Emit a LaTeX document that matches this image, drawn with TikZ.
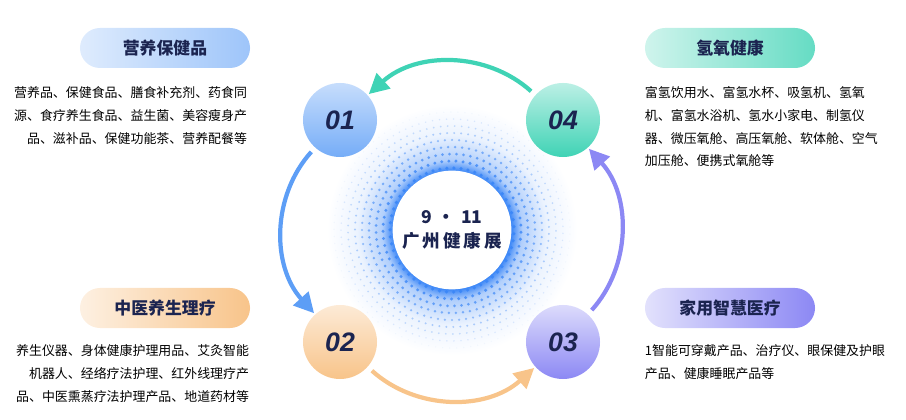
\documentclass[tikz,border=0pt]{standalone}
\usepackage{fontspec}
\setmainfont{Noto Sans CJK SC}
\newfontfamily\numfont{Liberation Sans}
\usetikzlibrary{arrows.meta}
\definecolor{navy}{HTML}{1B2450}
\definecolor{haloblue}{HTML}{3A86F7}
\definecolor{tealc}{HTML}{3FD3B5}
\definecolor{bluec}{HTML}{5D9EF6}
\definecolor{orangec}{HTML}{F8C48A}
\definecolor{purplec}{HTML}{8C88F4}
\pgfdeclareradialshading{halo}{\pgfpoint{0bp}{0bp}}{color(0bp)=(haloblue);color(11.8bp)=(haloblue);color(14bp)=(haloblue!40!white);color(19bp)=(haloblue!10!white);color(25bp)=(white);color(50bp)=(white)}
\begin{document}
\begin{tikzpicture}[x=0.025cm,y=0.025cm,
    num/.style={shape=circle, minimum size=1.85cm, font=\numfont\bfseries\itshape\fontsize{19}{19}\selectfont, text=navy, shading angle=135},
    pill/.style={rounded corners=0.5cm, minimum width=4.25cm, minimum height=1cm, font=\bfseries\fontsize{12}{12}\selectfont, text=navy, shading angle=90},
    desc/.style={font=\fontsize{9.2}{16.1}\selectfont, text=black},
    loop/.style={line width=3pt, bend right=42, -{Triangle[length=5mm,width=5mm]}, shorten <=4pt, shorten >=1pt}]

    \useasboundingbox (0,0) rectangle (906,420);

    % halo round the middle
    \shade[shading=halo] (452,190) circle (125);
    \foreach \r in {62,69,...,125} {
      \pgfmathsetmacro{\n}{int(2*pi*\r/7)}
      \pgfmathsetmacro{\op}{max(0,0.9-(\r-62)/66)}
      \pgfmathsetmacro{\dr}{1.8-(\r-62)/50}
      \foreach \k in {1,...,\n}
        \fill[haloblue, opacity=\op] (452,190) ++(\k/\n*360+\r:\r) circle (\dr);
    }
    \node[shape=circle, fill=white, minimum size=2.9cm, align=center, font=\bfseries\fontsize{12.5}{17}\selectfont, text=navy] (mid) at (452,190) {9\,\,・\,\,11\\广\,州\,健\,康\,展};

    % four numbered circles
    \node[num, top color=bluec!35!white, bottom color=bluec!85!white] (n01) at (340,300) {01};
    \node[num, top color=tealc!35!white, bottom color=tealc] (n04) at (563,300) {04};
    \node[num, top color=orangec!35!white, bottom color=orangec] (n02) at (340,78) {02};
    \node[num, top color=purplec!30!white, bottom color=purplec] (n03) at (563,78) {03};

    \draw[loop, tealc] (n04) to (n01);
    \draw[loop, bluec] (n01) to (n02);
    \draw[loop, orangec] (n02) to (n03);
    \draw[loop, purplec] (n03) to (n04);

    % titles
    \node[pill, left color=bluec!20!white, right color=bluec!60!white] (t01) at (165,372) {营养保健品};
    \node[pill, left color=tealc!25!white, right color=tealc!80!white] (t04) at (730,372) {氢氧健康};
    \node[pill, left color=orangec!25!white, right color=orangec] (t02) at (165,112) {中医养生理疗};
    \node[pill, left color=purplec!25!white, right color=purplec] (t03) at (730,112) {家用智慧医疗};

    % texts
    \node[desc, anchor=north east, align=right] (d01) at (252,338) {营养品、保健食品、膳食补充剂、药食同\\源、食疗养生食品、益生菌、美容瘦身产\\品、滋补品、保健功能茶、营养配餐等};
    \node[desc, anchor=north west, align=left] (d04) at (640,338) {富氢饮用水、富氢水杯、吸氢机、氢氧\\机、富氢水浴机、氢水小家电、制氢仪\\器、微压氧舱、高压氧舱、软体舱、空气\\加压舱、便携式氧舱等};
    \node[desc, anchor=north east, align=right] (d02) at (254,80) {养生仪器、身体健康护理用品、艾灸智能\\机器人、经络疗法护理、红外线理疗产\\品、中医熏蒸疗法护理产品、地道药材等};
    \node[desc, anchor=north west, align=left] (d03) at (640,80) {1智能可穿戴产品、治疗仪、眼保健及护眼\\产品、健康睡眠产品等};

\end{tikzpicture}
\end{document}
